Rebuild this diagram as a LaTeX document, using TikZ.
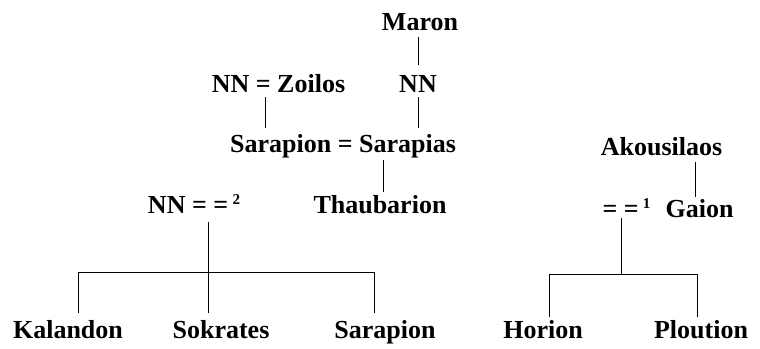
\documentclass[tikz,border=0pt]{standalone}
\usepackage{fontspec}
\setmainfont{Liberation Serif}
\begin{document}
\begin{tikzpicture}[x=1pt,y=-1pt,
  nm/.style={inner sep=0pt,outer sep=0pt,anchor=base,font=\fontsize{26}{30}\selectfont\bfseries},
  ln/.style={line width=1pt}]
\useasboundingbox (0,0) rectangle (760,348);
\newcommand{\supnum}[1]{\raisebox{8.5pt}{\fontsize{15}{15}\selectfont #1}}
% nodes
\node[nm] (maron) at (420,30) {Maron};
\node[nm] (nn1) at (418,92) {NN};
\node[nm] (zoilos) at (278.5,92) {NN = Zoilos};
\node[nm] (sar) at (343,152) {Sarapion = Sarapias};
\node[nm] (thau) at (380,213) {Thaubarion};
\node[nm] (nn2) at (194,213) {NN = =\,\supnum{2}};
\node[nm] (akou) at (661.5,155) {Akousilaos};
\node[nm] (eq1) at (626.5,217) {= =\,\supnum{1}};
\node[nm] (gaion) at (699.5,217) {Gaion};
\node[nm] (kal) at (68,338) {Kalandon};
\node[nm] (sok) at (221,338) {Sokrates};
\node[nm] (sar2) at (385,338) {Sarapion};
\node[nm] (hor) at (543,338) {Horion};
\node[nm] (plo) at (701,338) {Ploution};
% coordinates
\coordinate (zs) at (265,97);
\coordinate (nns) at (418,97);
\coordinate (ts) at (383,160);
\coordinate (s2) at (208,222);
\coordinate (a1) at (695,162);
\coordinate (g1) at (621,218);
\coordinate (barL) at (78,272);
\coordinate (barR) at (374,272);
\coordinate (bar2L) at (549,274);
\coordinate (bar2R) at (697,274);
% connectors
\draw[ln] (maron.south -| nns) ++(0,7) -- (418,65);
\draw[ln] (zs) -- (265,128);
\draw[ln] (nns) -- (418,128);
\draw[ln] (ts) -- (383,192);
\draw[ln] (a1) -- (695,197);
\draw[ln] (s2) -- (208,313);
\draw[ln] (barL) -- (barR);
\draw[ln] (barL) -- (78,313);
\draw[ln] (barR) -- (374,313);
\draw[ln] (g1) -- (g1 |- bar2L);
\draw[ln] (bar2L) -- (bar2R);
\draw[ln] (bar2L) -- (549,317);
\draw[ln] (bar2R) -- (697,317);
\end{tikzpicture}
\end{document}
